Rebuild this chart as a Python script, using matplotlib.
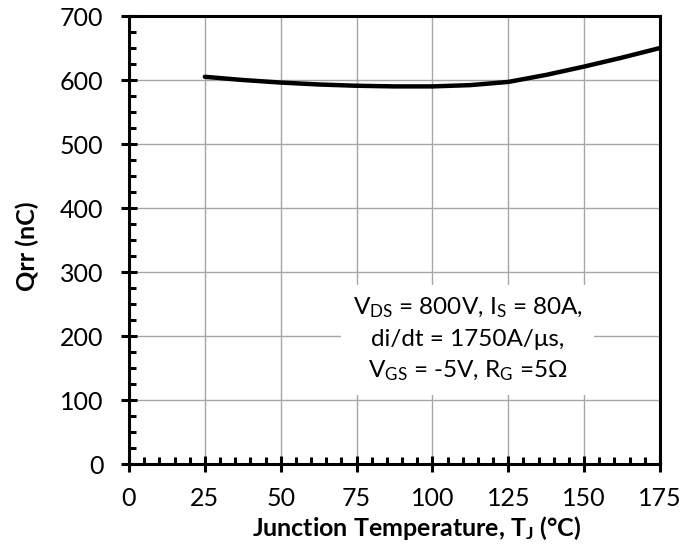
import matplotlib
matplotlib.use("Agg")
import matplotlib.pyplot as plt
from matplotlib.ticker import MultipleLocator

plt.rcParams['font.family'] = ['Lato', 'DejaVu Sans']
plt.rcParams['mathtext.fontset'] = 'custom'
plt.rcParams['mathtext.rm'] = 'Lato'
plt.rcParams['mathtext.it'] = 'Lato:italic'
plt.rcParams['mathtext.bf'] = 'Lato:bold'

# Qrr vs junction temperature
temp = [25, 37.5, 50, 62.5, 75, 87.5, 100, 112.5, 125, 137.5, 150, 162.5, 175]
qrr = [605, 600, 596, 593, 591, 590, 590, 592, 597, 608, 621, 635, 650]

x_ticks = [0, 25, 50, 75, 100, 125, 150, 175]
y_ticks = [0, 100, 200, 300, 400, 500, 600, 700]

fig = plt.figure(figsize=(6.99, 5.48), dpi=100)
ax = fig.add_axes([129/699, 1 - 464/548, (660-129)/699, (464-16)/548])

ax.plot(temp, qrr, color='black', lw=3.2, solid_capstyle='round', zorder=3)

ax.set_xlim(0, 175)
ax.set_ylim(0, 700)
ax.set_xticks(x_ticks)
ax.set_yticks(y_ticks)
ax.xaxis.set_minor_locator(MultipleLocator(5))
ax.yaxis.set_minor_locator(MultipleLocator(25))
ax.grid(True, which='major', color='#a6a6a6', lw=1)
ax.set_axisbelow(True)

for s in ax.spines.values():
    s.set_linewidth(2.2)
ax.tick_params(which='major', direction='inout', length=11, width=2.2,
               labelsize=18)
ax.tick_params(which='minor', direction='in', length=5, width=2.2)
ax.tick_params(axis='x', pad=11)
ax.tick_params(axis='y', pad=13)

ax.set_xlabel('Junction Temperature, T$_{\\mathbf{J}}$ (°C)', fontsize=18,
              fontweight='bold')
ax.xaxis.set_label_coords((417-129)/(660-129), -(536-464)/448)
ax.xaxis.label.set_va('baseline')
ax.set_ylabel('Qrr (nC)', fontsize=18, fontweight='bold')
ax.yaxis.set_label_coords(-(129-39)/(660-129), (464-246)/448)

txt = ('V$_{\\mathrm{DS}}$ = 800V, I$_{\\mathrm{S}}$ = 80A,\n'
       'di/dt = 1750A/\u03bcs,\n'
       'V$_{\\mathrm{GS}}$ = -5V, R$_{\\mathrm{G}}$ =5\u03a9')
ax.text(111.6, 194, txt, fontsize=17.5, ha='center', va='center',
        linespacing=1.5,
        bbox=dict(facecolor='white', edgecolor='none', pad=8), zorder=4)

fig.savefig('out.png', dpi=100)
